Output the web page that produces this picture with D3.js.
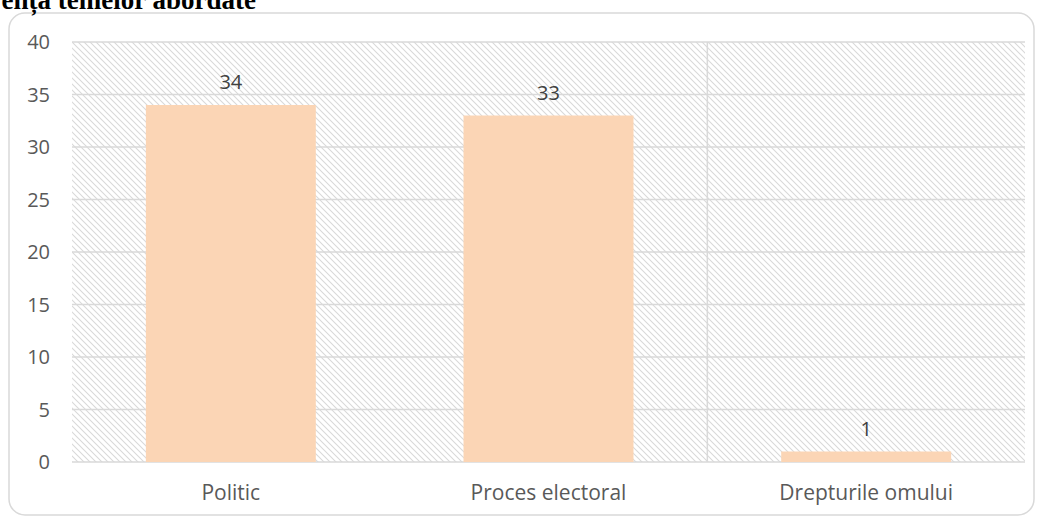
<!DOCTYPE html>
<html><head><meta charset="utf-8">
<script src="https://cdn.jsdelivr.net/npm/d3@7"></script>
<style>body{margin:0;background:#fff;}svg{display:block;}</style>
</head><body>
<script>
const categories = ["Politic", "Proces electoral", "Drepturile omului"];
const values = [34, 33, 1];
const yTicks = [0, 5, 10, 15, 20, 25, 30, 35, 40];
const titleText = "Frecvența temelor abordate";

const W = 1041, H = 518;
const svg = d3.select("body").append("svg").attr("width", W).attr("height", H);
const defs = svg.append("defs");
const pat = defs.append("pattern").attr("id", "hatch").attr("patternUnits", "userSpaceOnUse")
  .attr("width", 6).attr("height", 6);
pat.append("path").attr("d", "M-1,-1 L7,7 M-1,5 L1,7 M5,-1 L7,1").attr("stroke", "#d9d9d9").attr("stroke-width", 1.1);

// outer border
svg.append("rect").attr("x", 9).attr("y", 13).attr("width", 1025).attr("height", 502)
  .attr("rx", 16).attr("fill", "none").attr("stroke", "#d9d9d9").attr("stroke-width", 1.5);

// title (partially clipped, as in the reference)
svg.append("text").attr("x", 256).attr("y", 9).attr("text-anchor", "end")
  .attr("font-family", "Liberation Serif, Times New Roman, serif").attr("font-weight", "bold")
  .attr("font-size", 27).attr("fill", "#000").text(titleText);

const m = {l: 72, r: 1025, t: 42, b: 462};
const x = d3.scaleBand().domain(categories).range([m.l, m.r]).paddingInner(0).paddingOuter(0);
const y = d3.scaleLinear().domain([0, 40]).range([m.b, m.t]);

svg.append("rect").attr("x", m.l).attr("y", m.t).attr("width", m.r - m.l).attr("height", m.b - m.t)
  .attr("fill", "url(#hatch)");

// horizontal gridlines
svg.append("g").selectAll("line").data(yTicks).join("line")
  .attr("x1", m.l).attr("x2", m.r).attr("y1", d => y(d)).attr("y2", d => y(d))
  .attr("stroke", "#d9d9d9").attr("stroke-width", 1.5);

// vertical category divider
svg.append("line").attr("x1", x(categories[2])).attr("x2", x(categories[2]))
  .attr("y1", m.t).attr("y2", m.b).attr("stroke", "#d9d9d9").attr("stroke-width", 1.5);

const bw = x.bandwidth() * 0.535;
svg.append("g").selectAll("rect").data(values).join("rect")
  .attr("x", (d, i) => x(categories[i]) + x.bandwidth() / 2 - bw / 2)
  .attr("width", bw)
  .attr("y", d => y(d)).attr("height", d => y(0) - y(d))
  .attr("fill", "#fbd5b5");

const font = "Open Sans, Lato, sans-serif";
svg.append("g").selectAll("text").data(values).join("text")
  .attr("x", (d, i) => x(categories[i]) + x.bandwidth() / 2)
  .attr("y", d => y(d) - 16).attr("text-anchor", "middle")
  .attr("font-family", font).attr("font-size", 20).attr("fill", "#404040").text(d => d);

// y axis labels
svg.append("g").selectAll("text").data(yTicks).join("text")
  .attr("x", 50).attr("y", d => y(d) + 7).attr("text-anchor", "end")
  .attr("font-family", font).attr("font-size", 20).attr("fill", "#595959").text(d => d);

// x axis labels
svg.append("g").selectAll("text").data(categories).join("text")
  .attr("x", d => x(d) + x.bandwidth() / 2).attr("y", 500).attr("text-anchor", "middle")
  .attr("font-family", font).attr("font-size", 21).attr("fill", "#595959").text(d => d);
</script>
</body></html>
